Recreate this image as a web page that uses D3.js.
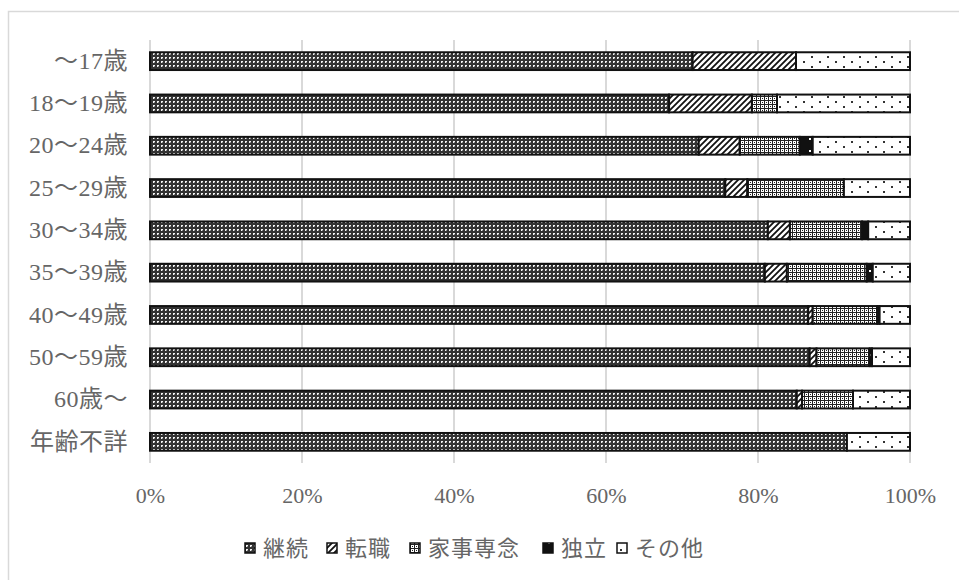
<!DOCTYPE html>
<html>
<head>
<meta charset="utf-8">
<script src="https://cdn.jsdelivr.net/npm/d3@7"></script>
<style>
  html, body { margin: 0; padding: 0; background: #fff; }
  svg { display: block; }
  text { font-family: "Liberation Serif", "Noto Sans CJK JP", serif; fill: #595959; }
</style>
</head>
<body>
<svg id="chart" width="959" height="580"></svg>
<script>
// Age groups (top to bottom)
const categories = ["～17歳", "18～19歳", "20～24歳", "25～29歳", "30～34歳",
                    "35～39歳", "40～49歳", "50～59歳", "60歳～", "年齢不詳"];
// Series names
const seriesNames = ["継続", "転職", "家事専念", "独立", "その他"];
// Shares (%) for each series, per age group
const keizoku  = [71.4, 68.3, 72.2, 75.7, 81.3, 80.9, 86.6, 86.8, 85.1, 91.7];
const tenshoku = [13.6, 10.9,  5.4,  2.9,  2.9,  2.9,  0.6,  0.9,  0.7,  0.0];
const kaji     = [ 0.0,  3.3,  7.9, 12.7,  9.5, 10.5,  8.5,  7.0,  6.7,  0.0];
const dokuritsu= [ 0.0,  0.0,  1.7,  0.0,  0.8,  0.8,  0.3,  0.3,  0.0,  0.0];
const sonota   = [15.0, 17.5, 12.8,  8.7,  5.5,  4.9,  4.0,  5.0,  7.5,  8.3];
// Axis tick values
const ticks = [0, 20, 40, 60, 80, 100];

const seriesValues = [keizoku, tenshoku, kaji, dokuritsu, sonota];
const rows = categories.map((c, i) => {
  const r = { cat: c };
  seriesNames.forEach((s, j) => r[s] = seriesValues[j][i]);
  return r;
});

const svg = d3.select("#chart");
const FONT = '"Liberation Serif", "Noto Sans CJK JP", serif';

// Outer frame
svg.append("rect")
  .attr("x", 8.5).attr("y", 11.5)
  .attr("width", 960).attr("height", 600)
  .attr("fill", "none").attr("stroke", "#d9d9d9").attr("stroke-width", 1.5);

// Fill patterns
const defs = svg.append("defs");
const pat = (id, w, h) => defs.append("pattern")
  .attr("id", id).attr("patternUnits", "userSpaceOnUse")
  .attr("width", w).attr("height", h);

// 継続: dark grid with small white cells
{
  const p = pat("p0", 4, 4);
  p.append("rect").attr("width", 4).attr("height", 4).attr("fill", "#333");
  p.append("rect").attr("x", 1).attr("y", 1).attr("width", 2).attr("height", 2).attr("fill", "#f4f4f4");
  p.append("rect").attr("x", 2).attr("y", 2).attr("width", 1).attr("height", 1).attr("fill", "#888");
}
// 転職: diagonal hatch
{
  const p = pat("p1", 6, 6);
  p.append("rect").attr("width", 6).attr("height", 6).attr("fill", "#fff");
  p.append("path").attr("d", "M-1,7 L7,-1 M-4,4 L4,-4 M2,10 L10,2")
    .attr("stroke", "#111").attr("stroke-width", 1.8);
}
// 家事専念: light dotted grid
{
  const p = pat("p2", 4, 4);
  p.append("rect").attr("width", 4).attr("height", 4).attr("fill", "#fff");
  p.append("rect").attr("x", 0).attr("y", 0).attr("width", 1).attr("height", 4).attr("fill", "#222");
  p.append("rect").attr("x", 0).attr("y", 0).attr("width", 4).attr("height", 1).attr("fill", "#222");
  p.append("rect").attr("x", 2).attr("y", 2).attr("width", 1).attr("height", 1).attr("fill", "#222");
}
// 独立: solid black with a white speck
{
  const p = pat("p3", 12, 12);
  p.append("rect").attr("width", 12).attr("height", 12).attr("fill", "#111");
  p.append("rect").attr("x", 5).attr("y", 6).attr("width", 2).attr("height", 2).attr("fill", "#fff");
}
// その他: white with sparse dots
{
  const p = pat("p4", 16, 10);
  p.append("rect").attr("width", 16).attr("height", 10).attr("fill", "#fff");
  p.append("rect").attr("x", 3).attr("y", 1).attr("width", 2).attr("height", 2).attr("fill", "#333");
  p.append("rect").attr("x", 11).attr("y", 6).attr("width", 2).attr("height", 2).attr("fill", "#333");
}

const plotLeft = 150, plotRight = 910, plotTop = 40, plotBottom = 463;
const x = d3.scaleLinear().domain([0, 100]).range([plotLeft, plotRight]);
const y = d3.scaleBand().domain(categories).range([plotTop, plotBottom])
  .paddingInner(0.58).paddingOuter(0.29);

// Vertical gridlines
svg.append("g").selectAll("line").data(ticks).join("line")
  .attr("x1", d => x(d)).attr("x2", d => x(d))
  .attr("y1", plotTop).attr("y2", plotBottom)
  .attr("stroke", "#d9d9d9").attr("stroke-width", 2);

// X axis labels
const xAxis = d3.axisBottom(x).tickValues(ticks).tickSize(0).tickFormat(d => d + "%");
const gx = svg.append("g").attr("transform", `translate(0,${plotBottom})`).call(xAxis);
gx.select(".domain").remove();
gx.selectAll("text").attr("dy", 0).attr("y", 40)
  .style("font-size", "22px").style("fill", "#666").style("font-family", FONT);

// Y axis labels
const yAxis = d3.axisLeft(y).tickSize(0);
const gy = svg.append("g").attr("transform", `translate(${plotLeft},0)`).call(yAxis);
gy.select(".domain").remove();
gy.selectAll("text").attr("x", -22)
  .style("font-size", "24px").style("letter-spacing", "0.5px")
  .style("fill", "#666").style("font-family", FONT);

// Stacked bars
const stack = d3.stack().keys(seriesNames)(rows);
svg.append("g").selectAll("g").data(stack).join("g")
  .attr("fill", (d, i) => `url(#p${i})`)
  .selectAll("rect").data(d => d.filter(s => s[1] - s[0] > 0)).join("rect")
  .attr("x", d => x(d[0]))
  .attr("width", d => x(d[1]) - x(d[0]))
  .attr("y", d => y(d.data.cat))
  .attr("height", y.bandwidth())
  .attr("stroke", "#111").attr("stroke-width", 2);

// Legend
const legendX = [245, 327, 410, 543, 617];
const lg = svg.append("g").selectAll("g").data(seriesNames).join("g")
  .attr("transform", (d, i) => `translate(${legendX[i]},548)`);
lg.append("rect").attr("x", 0).attr("y", -5).attr("width", 10).attr("height", 10)
  .attr("fill", (d, i) => `url(#p${i})`).attr("stroke", "#111").attr("stroke-width", 1.5);
lg.append("text").attr("x", 18).attr("y", 0).attr("dy", "0.36em")
  .style("font-size", "22px").style("letter-spacing", "1px").style("fill", "#666")
  .style("font-family", FONT)
  .text(d => d);
</script>
</body>
</html>
